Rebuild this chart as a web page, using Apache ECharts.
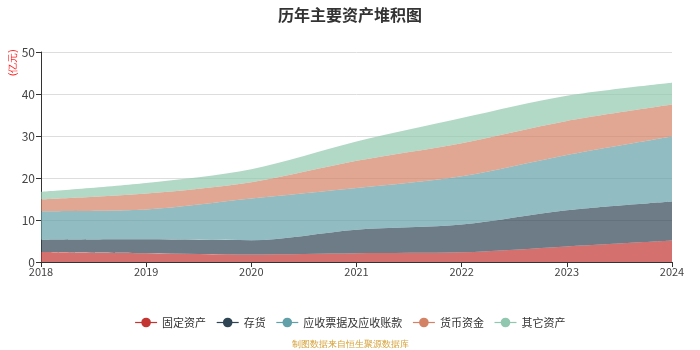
<!DOCTYPE html>
<html>
<head>
<meta charset="utf-8">
<script src="https://cdn.jsdelivr.net/npm/echarts@6/dist/echarts.min.js"></script>
<style>
  html, body { margin: 0; padding: 0; background: #fff; }
  #chart { width: 700px; height: 350px; }
</style>
</head>
<body>
<div id="chart"></div>
<script>
var years = ['2018', '2019', '2020', '2021', '2022', '2023', '2024'];
var fixedAssets = [2.4, 2.1, 1.8, 2.1, 2.3, 3.7, 5.1];
var inventory = [2.9, 3.3, 3.4, 5.6, 6.6, 8.6, 9.3];
var receivables = [6.8, 7.1, 9.9, 9.9, 11.5, 13.2, 15.5];
var cash = [2.8, 3.8, 3.9, 6.5, 7.9, 8.1, 7.6];
var otherAssets = [1.8, 2.5, 3.1, 4.6, 6.0, 6.0, 5.2];

var seriesNames = ['固定资产', '存货', '应收票据及应收账款', '货币资金', '其它资产'];
var seriesData = [fixedAssets, inventory, receivables, cash, otherAssets];
var colors = ['#c23531', '#2f4554', '#61a0a8', '#d48265', '#91c7ae'];

var myChart = echarts.init(document.getElementById('chart'));

var series = seriesNames.map(function (name, i) {
  return {
    name: name,
    type: 'line',
    stack: 'total',
    smooth: 0.3,
    symbol: 'circle',
    symbolSize: 8,
    showSymbol: false,
    lineStyle: { width: 0 },
    areaStyle: { opacity: 0.7 },
    data: seriesData[i]
  };
});

myChart.setOption({
  color: colors,
  textStyle: { fontFamily: '"Noto Sans CJK SC", sans-serif' },
  title: {
    text: '历年主要资产堆积图',
    left: 'center',
    top: 2,
    textStyle: { color: '#333', fontSize: 16, fontWeight: 'bold' }
  },
  legend: {
    bottom: 17,
    left: 'center',
    itemGap: 10,
    itemWidth: 22,
    itemHeight: 12,
    lineStyle: { width: 1.2 },
    textStyle: { color: '#333', fontSize: 11 },
    data: seriesNames
  },
  graphic: [
    {
      type: 'text',
      left: 'center',
      bottom: 1,
      style: { text: '制图数据来自恒生聚源数据库', fill: '#d4a036', fontSize: 9 }
    },
    {
      type: 'text',
      x: 8,
      y: 76,
      rotation: Math.PI / 2,
      style: { text: '(亿元)', fill: '#f22', fontSize: 10 }
    }
  ],
  grid: {
    top: 52,
    left: 41,
    right: 28,
    bottom: 88,
    containLabel: false
  },
  xAxis: {
    type: 'category',
    boundaryGap: false,
    data: years,
    axisLine: { lineStyle: { color: '#333' } },
    axisTick: { show: true, lineStyle: { color: '#333' } },
    axisLabel: { color: '#444', fontSize: 11, margin: 4 }
  },
  yAxis: {
    type: 'value',
    min: 0,
    max: 50,
    interval: 10,
    axisLine: { show: true, lineStyle: { color: '#333' } },
    axisTick: { show: true, lineStyle: { color: '#333' } },
    axisLabel: { color: '#444', fontSize: 12, margin: 6 },
    splitLine: { lineStyle: { color: '#ddd', width: 1 } }
  },
  series: series
});
</script>
</body>
</html>
